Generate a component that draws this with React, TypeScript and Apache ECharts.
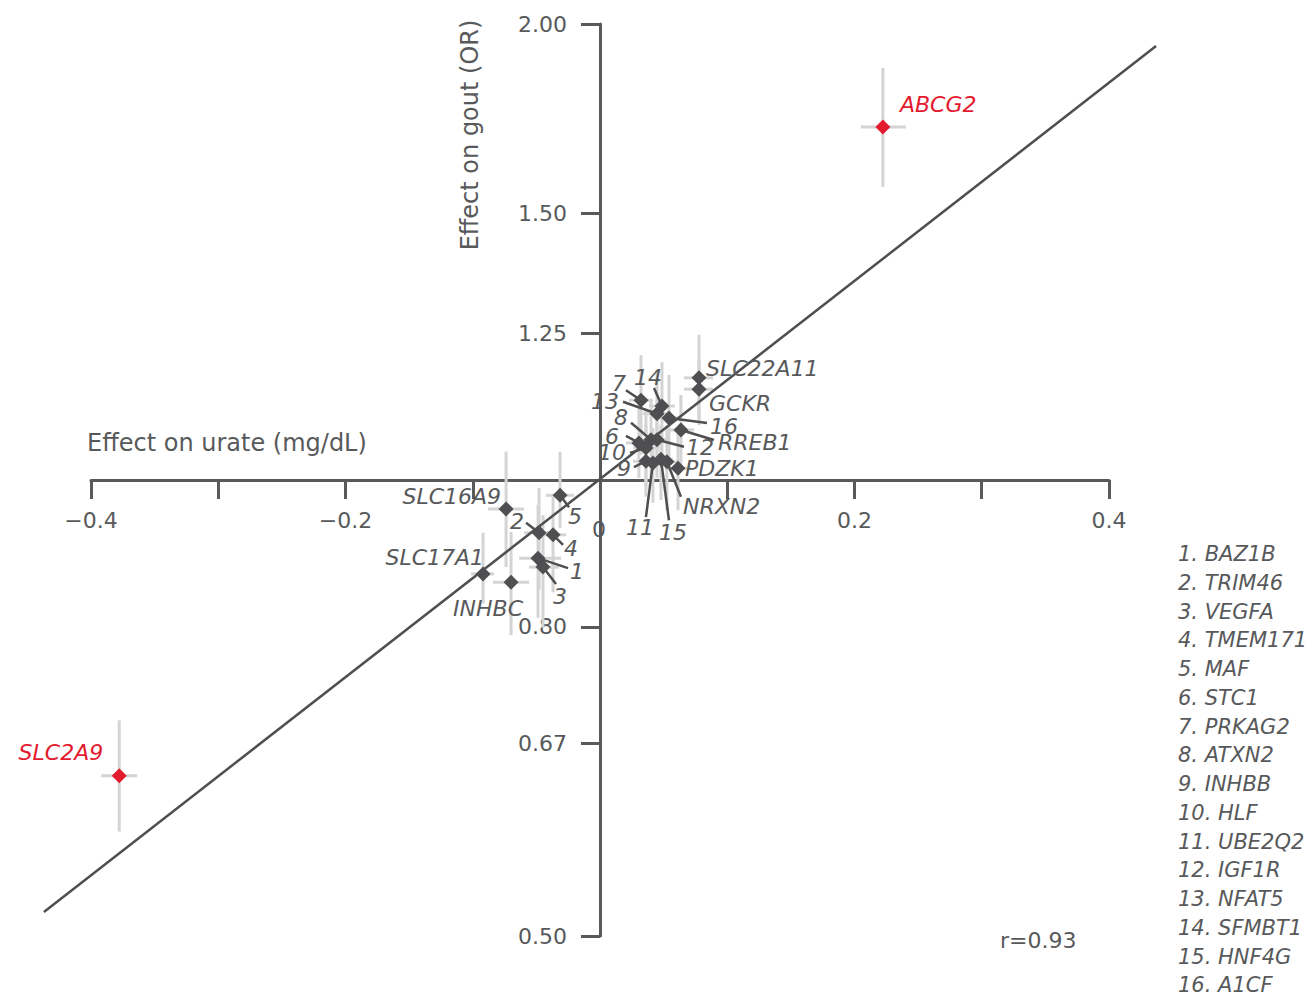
import React, { useEffect, useRef } from "react";
import * as echarts from "echarts";

// ---------- data ----------
const geneNames = [
  "ABCG2", "SLC2A9", "SLC22A11", "GCKR", "PRKAG2", "SFMBT1", "NFAT5", "A1CF", "RREB1",
  "ATXN2", "STC1", "HLF", "IGF1R", "INHBB", "UBE2Q2", "HNF4G", "NRXN2", "PDZK1",
  "MAF", "SLC16A9", "TRIM46", "TMEM171", "BAZ1B", "VEGFA", "SLC17A1", "INHBC",
];
const urateEffect = [
  0.2223, -0.3778, 0.0778, 0.0778, 0.0322, 0.0487, 0.0448, 0.0542, 0.0636,
  0.0401, 0.0306, 0.0361, 0.0448, 0.0361, 0.0416, 0.0479, 0.0526, 0.0613,
  -0.0314, -0.0738, -0.0479, -0.0369, -0.0487, -0.0448, -0.0919, -0.0699,
];
const urateLow = [
  0.205, -0.392, 0.066, 0.066, 0.0228, 0.0385, 0.0338, 0.044, 0.0534,
  0.0291, 0.0204, 0.0259, 0.0346, 0.0259, 0.0322, 0.0385, 0.0424, 0.0511,
  -0.0424, -0.088, -0.0597, -0.0463, -0.0636, -0.0558, -0.1013, -0.0841,
];
const urateHigh = [
  0.2404, -0.3637, 0.0888, 0.0888, 0.0416, 0.0589, 0.0558, 0.0644, 0.0738,
  0.0511, 0.0408, 0.0463, 0.055, 0.0463, 0.0511, 0.0573, 0.0628, 0.0715,
  -0.0204, -0.0597, -0.0361, -0.0267, -0.0306, -0.0322, -0.0833, -0.0558,
];
const goutOR = [
  1.71, 0.638, 1.168, 1.148, 1.129, 1.119, 1.106, 1.099, 1.079,
  1.063, 1.058, 1.05, 1.063, 1.029, 1.026, 1.032, 1.028, 1.018,
  0.977, 0.957, 0.923, 0.92, 0.888, 0.876, 0.867, 0.856,
];
const orLow = [
  1.561, 0.586, 1.095, 1.087, 1.039, 1.039, 1.023, 1.023, 1.023,
  1.0, 1.003, 0.989, 1.003, 0.975, 0.966, 0.97, 0.955, 0.955,
  0.93, 0.876, 0.846, 0.843, 0.811, 0.799, 0.829, 0.79,
];
const orHigh = [
  1.871, 0.694, 1.247, 1.2, 1.209, 1.196, 1.182, 1.173, 1.138,
  1.129, 1.121, 1.112, 1.129, 1.087, 1.082, 1.087, 1.087, 1.076,
  1.044, 1.044, 0.988, 0.975, 0.963, 0.948, 0.923, 0.924,
];
const highlightedGenes = ["ABCG2", "SLC2A9"];
const keyGenes = [
  "BAZ1B", "TRIM46", "VEGFA", "TMEM171", "MAF", "STC1", "PRKAG2", "ATXN2",
  "INHBB", "HLF", "UBE2Q2", "IGF1R", "NFAT5", "SFMBT1", "HNF4G", "A1CF",
];
const orTicks = [0.5, 0.67, 0.8, 1.25, 1.5, 2.0];
const urateLabelTicks = [-0.4, -0.2, 0.2, 0.4];
const diagonalUrate = [-0.437, 0.437];
const diagonalOR = [0.5186, 1.934];
const correlationText = "r=0.93";
const xTitle = "Effect on urate (mg/dL)";
const yTitle = "Effect on gout (OR)";

// ---------- annotation layout (pixel offsets from each point) ----------
type Lay = { dx: number; dy: number; align: string; lx?: number; ly?: number };
const labelLayout: Record<string, Lay> = {
  ABCG2: { dx: 17, dy: -23, align: "left" },
  SLC2A9: { dx: -16, dy: -23, align: "right" },
  SLC22A11: { dx: 7, dy: -9, align: "left" },
  GCKR: { dx: 10, dy: 14, align: "left" },
  PRKAG2: { dx: -15, dy: -17, align: "right", lx: -15, ly: -10 },
  SFMBT1: { dx: -14, dy: -29, align: "center", lx: -8, ly: -18 },
  NFAT5: { dx: -38, dy: -12, align: "right", lx: -34, ly: -12 },
  A1CF: { dx: 41, dy: 9, align: "left", lx: 38, ly: 5 },
  RREB1: { dx: 37, dy: 13, align: "left", lx: 33, ly: 10 },
  ATXN2: { dx: -23, dy: -22, align: "right", lx: -20, ly: -17 },
  STC1: { dx: -20, dy: -6, align: "right", lx: -13, ly: -7 },
  HLF: { dx: -20, dy: 5, align: "right", lx: -16, ly: 5 },
  IGF1R: { dx: 29, dy: 8, align: "left", lx: 27, ly: 7 },
  INHBB: { dx: -15, dy: 7, align: "right", lx: -12, ly: 6 },
  UBE2Q2: { dx: -13, dy: 64, align: "center", lx: -7, ly: 54 },
  HNF4G: { dx: 12, dy: 73, align: "center", lx: 8, ly: 61 },
  NRXN2: { dx: 16, dy: 45, align: "left", lx: 14, ly: 35 },
  PDZK1: { dx: 7, dy: 0, align: "left" },
  MAF: { dx: 8, dy: 21, align: "left", lx: 9, ly: 12 },
  SLC16A9: { dx: -5, dy: -12, align: "right" },
  TRIM46: { dx: -15, dy: -11, align: "right", lx: -13, ly: -10 },
  TMEM171: { dx: 11, dy: 14, align: "left", lx: 10, ly: 10 },
  BAZ1B: { dx: 32, dy: 13, align: "left", lx: 30, ly: 10 },
  VEGFA: { dx: 10, dy: 29, align: "left", lx: 13, ly: 17 },
  SLC17A1: { dx: 1, dy: -16, align: "right" },
  INHBC: { dx: -23, dy: 26, align: "center" },
};

const TEXT = "#58595b";
const DARK = "#4f4f51";
const RED = "#e31b2f";
const BAR = "#d4d4d4";
const FONT = '"DejaVu Sans", sans-serif';
const FS = 22;
const GRID = { left: 91, right: 202, top: 24, bottom: 60 };
const W = 1311;
const H = 996;

export default function App() {
  const ref = useRef<HTMLDivElement>(null);
  useEffect(() => {
    const chart = echarts.init(ref.current!, null, { renderer: "svg" });
    const pts = geneNames.map((_, i) => [urateEffect[i], Math.log(goutOR[i])]);
    const isRed = (n: string) => highlightedGenes.includes(n);
    const labelOf = (n: string) => {
      const k = keyGenes.indexOf(n);
      return k >= 0 ? String(k + 1) : n;
    };
    const gridW = W - GRID.left - GRID.right;
    const gridH = H - GRID.top - GRID.bottom;

    const option: any = {
      animation: false,
      grid: GRID,
      xAxis: {
        type: "value",
        min: -0.4,
        max: 0.4,
        interval: 0.1,
        position: "bottom",
        offset: -gridH / 2,
        splitLine: { show: false },
        axisLine: { onZero: false, lineStyle: { color: TEXT, width: 3 } },
        axisTick: { show: true, length: 19, lineStyle: { color: TEXT, width: 3 } },
        axisLabel: {
          margin: 29,
          color: TEXT,
          fontSize: FS,
          fontFamily: FONT,
          hideOverlap: false,
          showMinLabel: true,
          showMaxLabel: true,
          formatter: (v: number) => {
            const r = Math.round(v * 10) / 10;
            if (!urateLabelTicks.some((t) => Math.abs(t - r) < 1e-6)) return "";
            return (r < 0 ? "\u2212" : "") + Math.abs(r).toFixed(1);
          },
        },
      },
      yAxis: {
        type: "value",
        min: -Math.LN2,
        max: Math.LN2,
        position: "left",
        offset: -gridW / 2,
        splitLine: { show: false },
        axisLine: { onZero: false, lineStyle: { color: TEXT, width: 3 } },
        axisTick: {
          show: true,
          length: 19,
          customValues: orTicks.map((t) => Math.log(t)),
          lineStyle: { color: TEXT, width: 3 },
        },
        axisLabel: {
          margin: 33,
          color: TEXT,
          fontSize: FS,
          fontFamily: FONT,
          customValues: orTicks.map((t) => Math.log(t)),
          formatter: (v: number) => Math.exp(v).toFixed(2),
        },
      },
      series: [
        {
          type: "custom",
          z: 1,
          silent: true,
          clip: false,
          data: pts,
          renderItem: (params: any, api: any) => {
            const i = params.dataIndex;
            const c = api.coord([urateEffect[i], Math.log(goutOR[i])]);
            const lo = api.coord([urateLow[i], Math.log(orLow[i])]);
            const hi = api.coord([urateHigh[i], Math.log(orHigh[i])]);
            return {
              type: "group",
              children: [
                { type: "line", shape: { x1: c[0], y1: lo[1], x2: c[0], y2: hi[1] }, style: { stroke: BAR, lineWidth: 3 } },
                { type: "line", shape: { x1: lo[0], y1: c[1], x2: hi[0], y2: c[1] }, style: { stroke: BAR, lineWidth: 3 } },
              ],
            };
          },
        },
        {
          type: "custom",
          z: 2,
          silent: true,
          clip: false,
          data: [[diagonalUrate[0], Math.log(diagonalOR[0]), diagonalUrate[1], Math.log(diagonalOR[1])]],
          renderItem: (_params: any, api: any) => {
            const a = api.coord([diagonalUrate[0], Math.log(diagonalOR[0])]);
            const b = api.coord([diagonalUrate[1], Math.log(diagonalOR[1])]);
            return {
              type: "line",
              shape: { x1: a[0], y1: a[1], x2: b[0], y2: b[1] },
              style: { stroke: DARK, lineWidth: 2.5 },
            };
          },
        },
        {
          type: "custom",
          z: 3,
          silent: true,
          clip: false,
          data: pts,
          renderItem: (params: any, api: any) => {
            const i = params.dataIndex;
            const lay = labelLayout[geneNames[i]];
            if (!lay || lay.lx === undefined) return { type: "group", children: [] };
            const c = api.coord([urateEffect[i], Math.log(goutOR[i])]);
            return {
              type: "line",
              shape: { x1: c[0], y1: c[1], x2: c[0] + lay.lx, y2: c[1] + (lay.ly as number) },
              style: { stroke: DARK, lineWidth: 2.5 },
            };
          },
        },
        {
          type: "scatter",
          z: 4,
          symbol: "diamond",
          symbolSize: 15,
          itemStyle: { color: DARK, opacity: 1 },
          data: pts.filter((_, i) => !isRed(geneNames[i])),
        },
        {
          type: "scatter",
          z: 4,
          symbol: "diamond",
          symbolSize: 15,
          itemStyle: { color: RED, opacity: 1 },
          data: pts.filter((_, i) => isRed(geneNames[i])),
        },
        {
          type: "custom",
          z: 5,
          silent: true,
          clip: false,
          data: pts,
          renderItem: (params: any, api: any) => {
            const i = params.dataIndex;
            const n = geneNames[i];
            const lay = labelLayout[n];
            const c = api.coord([urateEffect[i], Math.log(goutOR[i])]);
            return {
              type: "text",
              x: c[0] + lay.dx,
              y: c[1] + lay.dy,
              style: {
                text: labelOf(n),
                fill: isRed(n) ? RED : TEXT,
                fontSize: FS,
                fontStyle: "italic",
                fontFamily: FONT,
                align: lay.align,
                verticalAlign: "middle",
              },
            };
          },
        },
      ],
      graphic: [
        {
          type: "text",
          x: 470,
          y: 135,
          rotation: Math.PI / 2,
          style: { text: yTitle, fill: TEXT, fontSize: 24, fontFamily: FONT, align: "center", verticalAlign: "middle" },
        },
        {
          type: "text",
          x: 87,
          y: 443,
          style: { text: xTitle, fill: TEXT, fontSize: 24, fontFamily: FONT, align: "left", verticalAlign: "middle" },
        },
        {
          type: "text",
          x: 599,
          y: 529,
          style: { text: "0", fill: TEXT, fontSize: FS, fontFamily: FONT, align: "center", verticalAlign: "middle" },
        },
        {
          type: "text",
          x: 1000,
          y: 940,
          style: { text: correlationText, fill: TEXT, fontSize: FS, fontFamily: FONT, align: "left", verticalAlign: "middle" },
        },
        ...keyGenes.map((g, k) => ({
          type: "text",
          x: 1178,
          y: 554 + k * 28.75,
          style: {
            text: `${k + 1}. ${g}`,
            fill: TEXT,
            fontSize: 21,
            fontStyle: "italic",
            fontFamily: FONT,
            align: "left",
            verticalAlign: "middle",
          },
        })),
      ],
    };
    chart.setOption(option);
    return () => chart.dispose();
  }, []);
  return <div ref={ref} style={{ position: "absolute", left: 0, top: 0, width: W, height: H }} />;
}
